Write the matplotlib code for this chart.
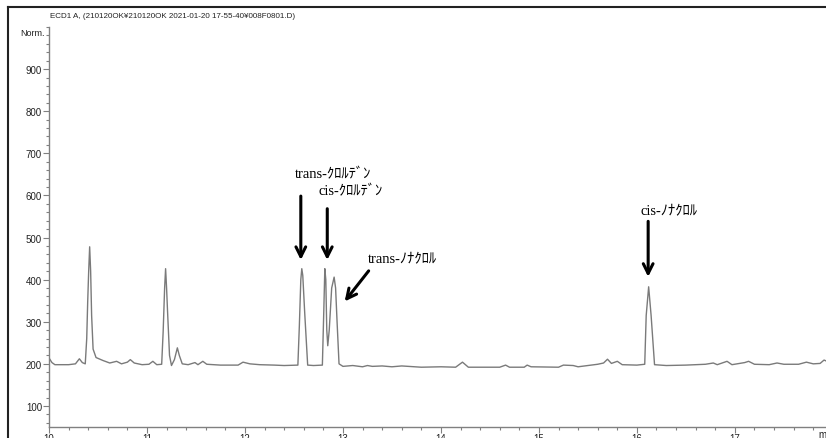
#!/usr/bin/env python3
import matplotlib
matplotlib.use('Agg')
import matplotlib.pyplot as plt
from matplotlib.lines import Line2D
from matplotlib.ticker import MultipleLocator

# chromatogram points (time in min, signal in Norm.)
times = [10.00, 10.03, 10.06, 10.20, 10.27, 10.31, 10.34, 10.37, 10.385, 10.395,
         10.405, 10.415, 10.425, 10.435, 10.45, 10.48, 10.55, 10.62, 10.69, 10.74,
         10.80, 10.83, 10.87, 10.95, 11.02, 11.06, 11.10, 11.15, 11.165, 11.18,
         11.19, 11.20, 11.21, 11.23, 11.25, 11.28, 11.31, 11.33, 11.36, 11.42,
         11.49, 11.52, 11.57, 11.61, 11.75, 11.93, 11.98, 12.05, 12.15, 12.30,
         12.40, 12.54, 12.555, 12.57, 12.58, 12.59, 12.61, 12.64, 12.70, 12.79,
         12.805, 12.815, 12.825, 12.835, 12.845, 12.86, 12.885, 12.91, 12.925, 12.94,
         12.96, 13.00, 13.10, 13.20, 13.25, 13.30, 13.40, 13.50, 13.60, 13.80,
         14.00, 14.15, 14.22, 14.28, 14.60, 14.66, 14.70, 14.85, 14.88, 14.92,
         15.20, 15.25, 15.35, 15.40, 15.50, 15.60, 15.66, 15.70, 15.74, 15.80,
         15.85, 16.00, 16.08, 16.095, 16.12, 16.145, 16.18, 16.30, 16.50, 16.70,
         16.78, 16.82, 16.92, 16.97, 17.10, 17.14, 17.20, 17.35, 17.43, 17.50,
         17.65, 17.73, 17.80, 17.87, 17.91, 17.93]
signal = [214, 203, 198, 198, 200, 212, 203, 200, 260, 348,
          420, 478, 420, 315, 235, 215, 208, 202, 206, 200,
          204, 210, 202, 198, 199, 206, 198, 199, 276, 380,
          426, 380, 324, 220, 196, 210, 238, 220, 200, 198,
          203, 198, 206, 199, 197, 197, 204, 200, 198, 197,
          196, 197, 290, 400, 426, 410, 320, 197, 196, 197,
          330, 426, 400, 280, 243, 280, 380, 406, 380, 300,
          200, 194, 196, 193, 196, 194, 195, 193, 195, 192,
          193, 192, 204, 192, 192, 197, 192, 192, 197, 193,
          192, 197, 196, 193, 196, 199, 202, 211, 201, 206,
          198, 197, 199, 315, 383, 315, 198, 196, 197, 199,
          202, 198, 206, 198, 203, 206, 199, 198, 202, 199,
          199, 204, 200, 201, 209, 207]

# peak labels: text, text position, arrow tail, arrow tip
labels = ['trans-ｸﾛﾙﾃﾞﾝ', 'cis-ｸﾛﾙﾃﾞﾝ', 'trans-ﾉﾅｸﾛﾙ', 'cis-ﾉﾅｸﾛﾙ']
label_xy = [(12.51, 652), (12.75, 612), (13.25, 450), (16.04, 564)]
arrow_tail = [(12.57, 605), (12.84, 575), (13.28, 426), (16.115, 545)]
arrow_tip = [(12.57, 440), (12.84, 440), (13.0, 343), (16.115, 400)]

title = 'ECD1 A, (210120OK¥210120OK 2021-01-20 17-55-40¥008F0801.D)'
yticks = [100, 200, 300, 400, 500, 600, 700, 800, 900]
xticks = [10, 11, 12, 13, 14, 15, 16, 17]

narrow = ['Liberation Sans Narrow', 'Liberation Sans', 'DejaVu Sans']
jp = ['Liberation Serif', 'Noto Sans CJK JP', 'DejaVu Sans']

fig = plt.figure(figsize=(8.26, 4.39), dpi=100)
ax = fig.add_axes([49 / 826, 1 - 428 / 439, 1 - 49 / 826, 400 / 439])

ax.plot(times, signal, color='#7a7a7a', lw=1.0)

ax.set_xlim(10, 17.93)
ax.set_ylim(50, 1000)
ax.set_xticks(xticks)
ax.set_yticks(yticks)
ax.xaxis.set_minor_locator(MultipleLocator(0.2))
ax.yaxis.set_minor_locator(MultipleLocator(20))
for s in ['top', 'right']:
    ax.spines[s].set_visible(False)
for s in ['left', 'bottom']:
    ax.spines[s].set_color('#808080')
    ax.spines[s].set_linewidth(1.0)
ax.tick_params(which='major', length=4, color='#808080', width=0.8, pad=1)
ax.tick_params(axis='x', which='major', pad=0)
ax.tick_params(which='minor', length=2, color='#808080', width=0.8)
for lab in ax.get_xticklabels() + ax.get_yticklabels():
    lab.set_family(narrow)
    lab.set_fontsize(7)
    lab.set_color('#222222')

for txt, pos, tail, tip in zip(labels, label_xy, arrow_tail, arrow_tip):
    ax.text(pos[0], pos[1], txt, family=jp, fontsize=10.5,
            ha='left', va='center', color='black')
    ax.annotate('', xy=tip, xytext=tail,
                arrowprops=dict(arrowstyle='->,head_length=0.7,head_width=0.35',
                                color='black', lw=2.2))

fig.text(50 / 826, 1 - 16 / 439, title, family=narrow, fontsize=5.8,
         ha='left', va='center', color='#222222')
fig.text(20 / 826, 1 - 33 / 439, 'Norm.', family=narrow, fontsize=6.5,
         ha='left', va='center', color='#222222')
fig.text(818 / 826, 1 - 435 / 439, 'min', family=narrow, fontsize=7,
         ha='left', va='center', color='#222222')

# outer frame of the printout (left and top edges)
fig.add_artist(Line2D([8 / 826, 8 / 826], [0, 1 - 8 / 439], color='#222222', lw=1.5))
fig.add_artist(Line2D([8 / 826, 1], [1 - 8 / 439, 1 - 8 / 439], color='#222222', lw=1.5))

fig.savefig('out.png', dpi=100)
